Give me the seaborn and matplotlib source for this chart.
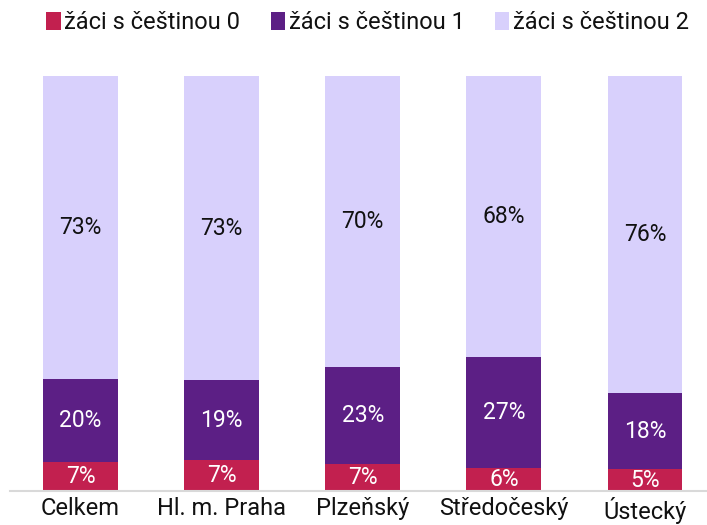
import numpy as np
import pandas as pd
import seaborn as sb
import matplotlib.pyplot as plt
from matplotlib.patches import Patch

# kraje a podily zaku podle urovne cestiny (v %)
regions = ["Celkem", "Hl. m. Praha", "Plzeňský", "Středočeský", "Ústecký"]
cestina_0 = [7.1, 7.4, 6.6, 5.6, 5.2]
cestina_1 = [20.0, 19.3, 23.2, 26.6, 18.4]
cestina_2 = [72.9, 73.3, 70.2, 67.8, 76.4]
series_names = ["žáci s češtinou 0", "žáci s češtinou 1", "žáci s češtinou 2"]

colors = ["#C2204F", "#5C1F85", "#D8D0FC"]
text_colors = ["white", "white", "#111111"]

sb.set_style("white")
plt.rcParams['font.family'] = ['Roboto', 'DejaVu Sans']

df = pd.DataFrame({"region": regions, "c0": cestina_0, "c1": cestina_1, "c2": cestina_2})
df["top0"] = df["c0"]
df["top1"] = df["c0"] + df["c1"]
df["top2"] = df["top1"] + df["c2"]

fig = plt.figure(figsize=(7.07, 5.25), dpi=100)
ax = fig.add_axes([10 / 707, 34 / 525, 697 / 707, 415 / 525])

# stacked bars: draw the tallest first, then overlay the lower parts
for col, color in zip(["top2", "top1", "top0"], colors[::-1]):
    sb.barplot(data=df, x="region", y=col, color=color, width=0.53,
               saturation=1, linewidth=0, ax=ax)

# percentage labels in the middle of each segment
for i in range(len(regions)):
    bottom = 0
    for vals, tc in zip([cestina_0, cestina_1, cestina_2], text_colors):
        v = vals[i]
        ax.text(i, bottom + v / 2, f"{v:.0f}%", ha="center", va="center",
                color=tc, fontsize=16.5)
        bottom += v

ax.set_ylim(0, 100)
ax.set_xlim(-0.5, 4.44)
ax.set_xlabel("")
ax.set_ylabel("")
ax.set_yticks([])
ax.tick_params(axis="x", length=0, labelsize=17, pad=4, labelcolor="#111111")
for side in ["top", "left", "right"]:
    ax.spines[side].set_visible(False)
ax.spines["bottom"].set_color("#D9D9D9")
ax.spines["bottom"].set_linewidth(1.5)

handles = [Patch(facecolor=c, edgecolor="none") for c in colors]
fig.legend(handles, series_names, loc="center", bbox_to_anchor=(0.52, 0.957),
           ncol=3, frameon=False, fontsize=17, labelcolor="#111111",
           handlelength=0.6, handleheight=0.8, handletextpad=0.15,
           columnspacing=1.3)

plt.savefig("out.png", dpi=100)
plt.close()
